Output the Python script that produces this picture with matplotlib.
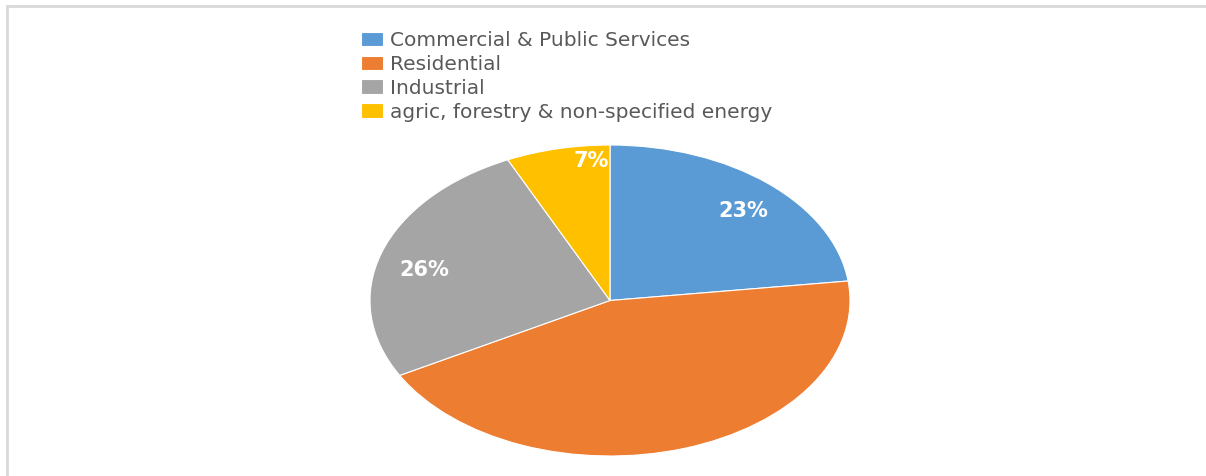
import numpy as np
import matplotlib.pyplot as plt
from matplotlib.patches import Rectangle

# sector shares (%)
sectors = ['Commercial & Public Services', 'Residential', 'Industrial',
           'agric, forestry & non-specified energy']
shares = [23, 44, 26, 7]
shown = ['23%', '', '26%', '7%']   # residential label not shown in the original
colors = ['#5B9BD5', '#ED7D31', '#A5A5A5', '#FFC000']
label_dist = [0.8, 0.8, 0.8, 0.9]
label_frac = [0.47, 0.5, 0.54, 0.2]   # where along the wedge the label sits

W, H = 1206, 476
fig = plt.figure(figsize=(W / 100, H / 100), dpi=100)

# light frame along top and left edge
fig.patches.append(Rectangle((7 / W, -0.1), 1.2, (H - 6) / H + 0.1, transform=fig.transFigure,
                             fill=False, edgecolor='#D9D9D9', linewidth=2, clip_on=False))

# pie drawn into a squashed axes so it comes out as an ellipse
ax = fig.add_axes([370 / W, (H - 456) / H, 480 / W, 311 / H])
wedges, _ = ax.pie(shares, colors=colors, startangle=90, counterclock=False,
                   wedgeprops=dict(edgecolor='white', linewidth=0.8))
ax.set_aspect('auto')
ax.set_xlim(-1, 1)
ax.set_ylim(-1, 1)

for w, txt, d, f in zip(wedges, shown, label_dist, label_frac):
    if not txt:
        continue
    ang = np.deg2rad(w.theta1 + f * (w.theta2 - w.theta1))
    ax.text(d * np.cos(ang), d * np.sin(ang), txt, ha='center', va='center',
            color='white', fontsize=15, fontweight='bold')

fig.legend(wedges, sectors, loc='upper left', bbox_to_anchor=(351 / W, 1 - 21 / H),
           frameon=False, fontsize=14.5, labelcolor='#595959',
           handlelength=1.1, handleheight=0.75, handletextpad=0.35,
           labelspacing=0.24, borderpad=0)

fig.savefig('out.png', dpi=100)
